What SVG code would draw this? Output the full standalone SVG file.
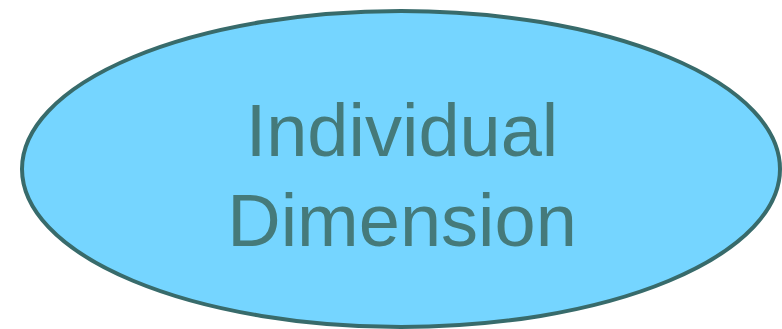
<svg xmlns="http://www.w3.org/2000/svg" width="782" height="329" viewBox="0 0 782 329">
<style>
.node{fill:#75d5ff;stroke:#386b6b;stroke-width:4}
.lbl{font-family:"Liberation Sans",Arial,sans-serif;font-size:74px;fill:#457a7a;text-anchor:middle}
</style>
<rect width="782" height="329" fill="#ffffff"/>
<g id="connectors"></g>
<g id="node-individual-dimension">
<ellipse class="node" cx="401" cy="169" rx="379" ry="158"/>
<text class="lbl" x="402" y="156">Individual</text>
<text class="lbl" x="402" y="246">Dimension</text>
</g>
</svg>
